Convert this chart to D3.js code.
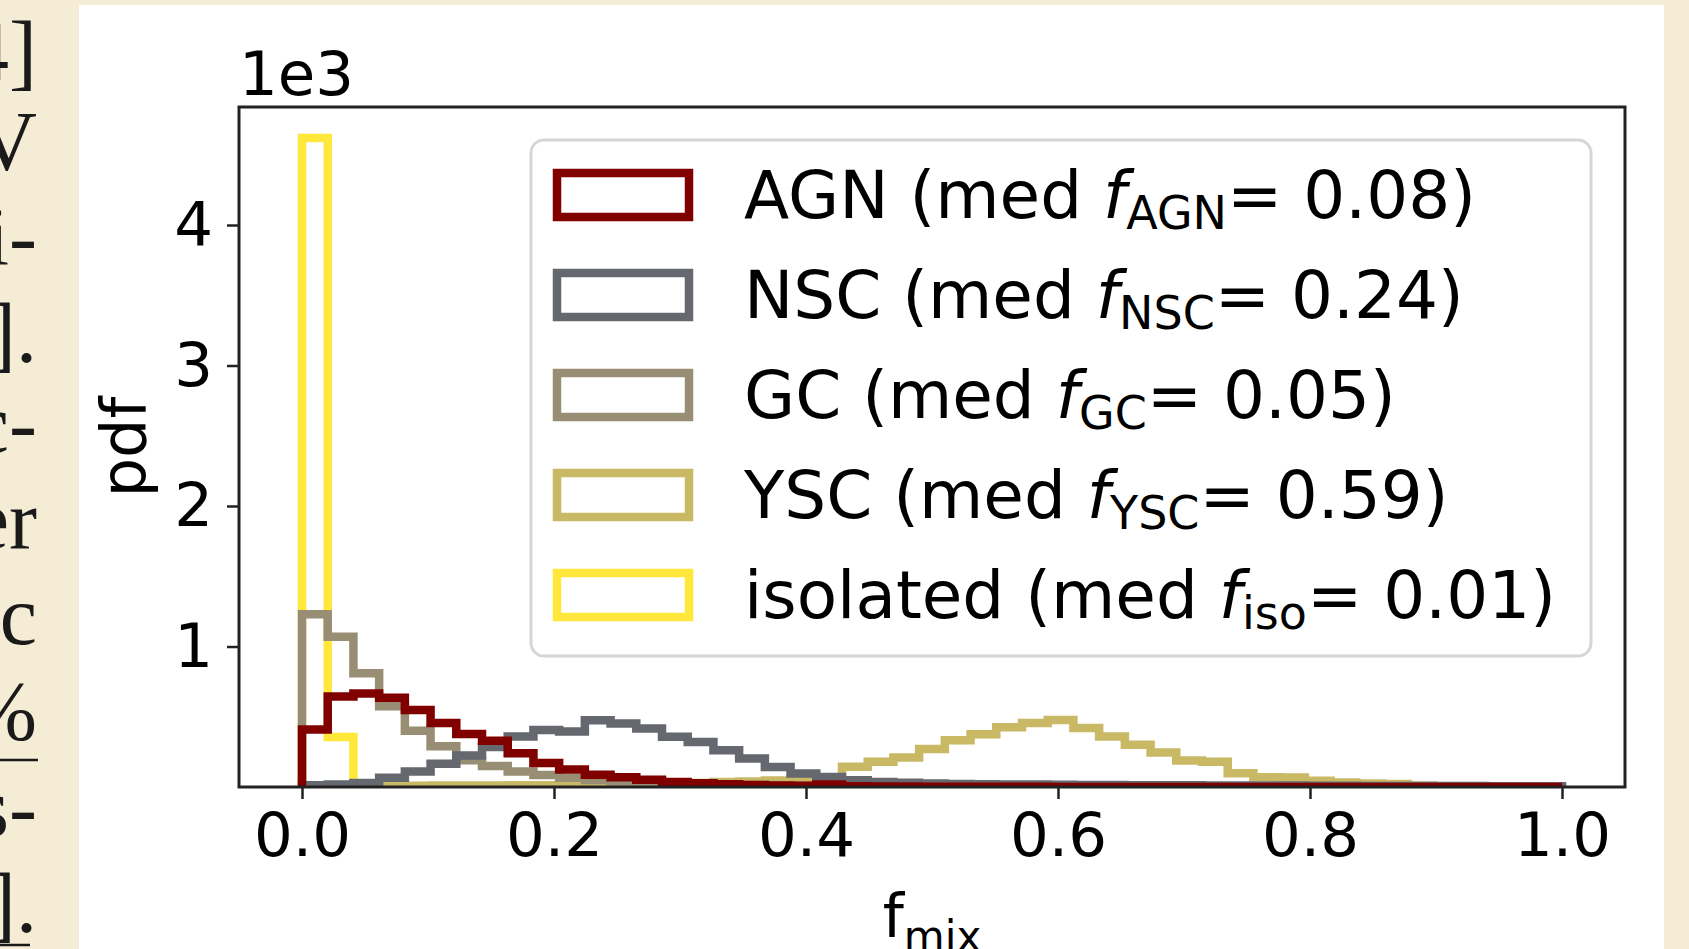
<!DOCTYPE html>
<html lang="en">
<head>
<meta charset="UTF-8">
<title>pdf of f_mix</title>
<style>
  html, body { margin: 0; padding: 0; background: #f5ecd6; overflow: hidden; }
  svg { display: block; }
  text { font-family: "DejaVu Sans", sans-serif; fill: #000; }
  .page-text { font-family: "Liberation Serif", serif; font-size: 84px; fill: #1a1a1a; }
</style>
</head>
<body>
<svg id="chart" width="1689" height="949"></svg>
<script src="https://cdn.jsdelivr.net/npm/d3@7/dist/d3.min.js"></script>
<script>
// histogram: 49 equal bins between 0 and 1
const nBins = 49;

const seriesNames = ["AGN", "NSC", "GC", "YSC", "isolated"];
const subNames = ["AGN", "NSC", "GC", "YSC", "iso"];
const medians = ["0.08", "0.24", "0.05", "0.59", "0.01"];
const colors = ["#800000", "#65686f", "#978e74", "#c9b965", "#ffe83b"];

// pdf values (x 1e3), one per bin
const agnVals = [0.41, 0.645, 0.665, 0.635, 0.548, 0.455, 0.378, 0.33, 0.24, 0.17,
  0.125, 0.088, 0.07, 0.052, 0.036, 0.026, 0.019, 0.014, 0.011, 0.009,
  0.017, 0.006, 0.004, 0.003, 0.002, 0.002, 0.001, 0.001, 0.001, 0,
  0, 0, 0, 0, 0, 0, 0, 0, 0, 0,
  0, 0, 0, 0, 0, 0, 0, 0, 0];
const nscVals = [0.012, 0.018, 0.028, 0.065, 0.11, 0.165, 0.225, 0.285, 0.36, 0.405,
  0.395, 0.475, 0.452, 0.417, 0.357, 0.321, 0.262, 0.203, 0.143, 0.096,
  0.072, 0.048, 0.036, 0.03, 0.025, 0.022, 0.02, 0.018, 0.017, 0.016,
  0.015, 0.014, 0.013, 0.012, 0.012, 0.011, 0.011, 0.01, 0.01, 0.009,
  0.009, 0.008, 0.008, 0.008, 0.007, 0.007, 0.006, 0.006, 0.005];
const gcVals = [1.23, 1.07, 0.81, 0.575, 0.40, 0.29, 0.19, 0.15, 0.11, 0.085,
  0.065, 0.05, 0.04, 0.032, 0.026, 0.021, 0.017, 0.014, 0.011, 0.009,
  0.007, 0.006, 0.005, 0.004, 0.003, 0.002, 0.002, 0.001, 0.001, 0.001,
  0, 0, 0, 0, 0, 0, 0, 0, 0, 0,
  0, 0, 0, 0, 0, 0, 0, 0, 0];
const yscVals = [0, 0, 0, 0.008, 0.009, 0.01, 0.01, 0.011, 0.012, 0.012,
  0.013, 0.015, 0.017, 0.02, 0.024, 0.028, 0.035, 0.04, 0.046, 0.052,
  0.055, 0.145, 0.18, 0.21, 0.27, 0.333, 0.375, 0.425, 0.455, 0.476,
  0.42, 0.36, 0.30, 0.245, 0.188, 0.18, 0.097, 0.07, 0.068, 0.044,
  0.032, 0.025, 0.022, 0.01, 0.005, 0.003, 0.002, 0.001, 0];
const isoVals = [4.62, 0.355, 0, 0, 0, 0, 0, 0, 0, 0,
  0, 0, 0, 0, 0, 0, 0, 0, 0, 0,
  0, 0, 0, 0, 0, 0, 0, 0, 0, 0,
  0, 0, 0, 0, 0, 0, 0, 0, 0, 0,
  0, 0, 0, 0, 0, 0, 0, 0, 0];

const xTicks = [0.0, 0.2, 0.4, 0.6, 0.8, 1.0];
const yTicks = [1, 2, 3, 4];

// the visible ends of the paper's text lines at the left edge
const pageLines = ["4]", "V", "i-", "].", "c-", "er", "c", "%", "s-", "]."];

const allVals = [agnVals, nscVals, gcVals, yscVals, isoVals];

const svg = d3.select("#chart");

// white figure card on the beige page
svg.append("rect").attr("x", 79).attr("y", 5).attr("width", 1585).attr("height", 944).attr("fill", "#fff");

// left text column fragments
const pageBase = [80, 170, 265, 362, 452, 548, 644, 740, 836, 932];
svg.selectAll(".page-text").data(pageLines).enter().append("text")
  .attr("class", "page-text")
  .attr("x", 37)
  .attr("y", (d, i) => pageBase[i])
  .attr("text-anchor", "end")
  .text(d => d);
svg.append("line").attr("x1", 0).attr("x2", 38).attr("y1", 760).attr("y2", 760).attr("stroke", "#1a1a1a").attr("stroke-width", 2.5);
svg.append("line").attr("x1", 0).attr("x2", 30).attr("y1", 945).attr("y2", 945).attr("stroke", "#1a1a1a").attr("stroke-width", 2.5);

const pLeft = 239, pRight = 1625, pTop = 107, pBottom = 787;
const x = d3.scaleLinear().domain([-0.05, 1.05]).range([pLeft, pRight]);
const y = d3.scaleLinear().domain([0, 4.84]).range([pBottom, pTop]);

svg.append("clipPath").attr("id", "plotclip")
  .append("rect").attr("x", pLeft).attr("y", pTop).attr("width", pRight - pLeft).attr("height", pBottom - pTop);

const edges = d3.range(nBins + 1).map(i => i / nBins);

function stepPoints(vals) {
  const pts = [[edges[0], 0]];
  vals.forEach((v, i) => { pts.push([edges[i], v]); pts.push([edges[i + 1], v]); });
  pts.push([edges[nBins], 0]);
  return pts;
}

const line = d3.line().x(d => x(d[0])).y(d => y(d[1]));

// matplotlib drew the last series first
const order = [4, 3, 2, 1, 0];
const hist = svg.append("g").attr("clip-path", "url(#plotclip)");
order.forEach(k => {
  hist.append("path")
    .attr("d", line(stepPoints(allVals[k])))
    .attr("fill", "none")
    .attr("stroke", colors[k])
    .attr("stroke-width", 8.5)
    .attr("stroke-linejoin", "miter");
});

// axes
const xAxis = svg.append("g").attr("transform", `translate(0,${pBottom})`)
  .call(d3.axisBottom(x).tickValues(xTicks).tickFormat(d3.format(".1f")).tickSize(12).tickPadding(14));
const yAxis = svg.append("g").attr("transform", `translate(${pLeft},0)`)
  .call(d3.axisLeft(y).tickValues(yTicks).tickFormat(d3.format("d")).tickSize(12).tickPadding(14));
[xAxis, yAxis].forEach(g => {
  g.select(".domain").remove();
  g.selectAll(".tick line").attr("stroke", "#222").attr("stroke-width", 2.5);
  g.selectAll(".tick text").attr("font-size", 61).attr("font-family", "DejaVu Sans").attr("fill", "#000");
});

svg.append("rect").attr("x", pLeft).attr("y", pTop).attr("width", pRight - pLeft).attr("height", pBottom - pTop)
  .attr("fill", "none").attr("stroke", "#222").attr("stroke-width", 3);

// offset text and axis labels
svg.append("text").attr("x", pLeft).attr("y", 95).attr("font-size", 61).text("1e3");

svg.append("text")
  .attr("transform", `translate(145,${(pTop + pBottom) / 2}) rotate(-90)`)
  .attr("text-anchor", "middle").attr("font-size", 62).text("pdf");

const xl = svg.append("text").attr("x", (pLeft + pRight) / 2).attr("y", 937)
  .attr("text-anchor", "middle").attr("font-size", 60);
xl.append("tspan").text("f");
xl.append("tspan").attr("font-size", 42).attr("dy", 14).text("mix");

// legend
const lg = svg.append("g");
lg.append("rect").attr("x", 531).attr("y", 140).attr("width", 1060).attr("height", 516)
  .attr("rx", 13).attr("fill", "#fff").attr("fill-opacity", 0.8)
  .attr("stroke", "#d6d6d6").attr("stroke-width", 3);

seriesNames.forEach((name, i) => {
  const cy = 195 + 100 * i;
  lg.append("rect").attr("x", 557).attr("y", cy - 22).attr("width", 132).attr("height", 44)
    .attr("fill", "none").attr("stroke", colors[i]).attr("stroke-width", 8.5);
  const t = lg.append("text").attr("x", 744).attr("y", cy + 23).attr("font-size", 66);
  t.append("tspan").text(name + " (med ");
  t.append("tspan").attr("font-style", "italic").text("f");
  t.append("tspan").attr("font-size", 46).attr("dy", 11).text(subNames[i]);
  t.append("tspan").attr("dy", -11).text("= " + medians[i] + ")");
});
</script>
</body>
</html>
